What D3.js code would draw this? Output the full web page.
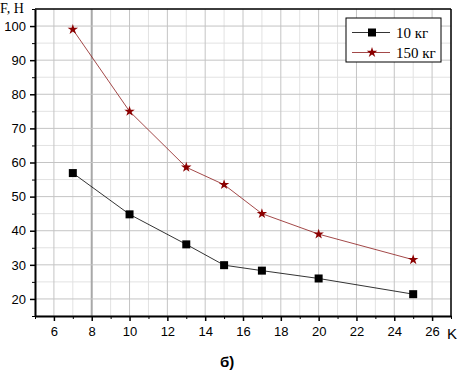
<!DOCTYPE html>
<html>
<head>
<meta charset="utf-8">
<script src="https://cdn.jsdelivr.net/npm/d3@7"></script>
<style>
  body { margin: 0; background: #fff; }
  svg { display: block; }
</style>
</head>
<body>
<div id="chart"></div>
<script>
const kValues = [7, 10, 13, 15, 17, 20, 25];
const force10 = [56.9, 44.8, 36, 29.9, 28.3, 26, 21.4];
const force150 = [99, 75, 58.6, 53.5, 45, 39, 31.5];
const seriesNames = ['10 кг', '150 кг'];
const xTicks = [6, 8, 10, 12, 14, 16, 18, 20, 22, 24, 26];
const yTicks = [20, 30, 40, 50, 60, 70, 80, 90, 100];

const W = 457, H = 372;
const margin = { top: 9, right: 6, bottom: 56, left: 35 };

const svg = d3.select('#chart').append('svg')
    .attr('width', W)
    .attr('height', H);

const x = d3.scaleLinear().domain([5, 27]).range([margin.left, W - margin.right]);
const y = d3.scaleLinear().domain([15, 105]).range([H - margin.bottom, margin.top]);

const grid = svg.append('g');
// minor grid
grid.selectAll('.vminor')
  .data(d3.range(5, 28, 2))
  .join('line')
    .attr('x1', d => x(d)).attr('x2', d => x(d))
    .attr('y1', y(15)).attr('y2', y(105))
    .attr('stroke', '#e2e2e2').attr('stroke-width', 1);
grid.selectAll('.hminor')
  .data(d3.range(15, 106, 10))
  .join('line')
    .attr('y1', d => y(d)).attr('y2', d => y(d))
    .attr('x1', x(5)).attr('x2', x(27))
    .attr('stroke', '#e2e2e2').attr('stroke-width', 1);
// major grid
grid.selectAll('.vmajor')
  .data(xTicks)
  .join('line')
    .attr('x1', d => x(d)).attr('x2', d => x(d))
    .attr('y1', y(15)).attr('y2', y(105))
    .attr('stroke', d => d === 8 ? '#a8a8a8' : '#c4c4c4')
    .attr('stroke-width', d => d === 8 ? 2 : 1);
grid.selectAll('.hmajor')
  .data(yTicks)
  .join('line')
    .attr('y1', d => y(d)).attr('y2', d => y(d))
    .attr('x1', x(5)).attr('x2', x(27))
    .attr('stroke', '#c4c4c4').attr('stroke-width', 1);

// frame top/right
svg.append('line')
    .attr('x1', x(5)).attr('x2', x(27)).attr('y1', y(105)).attr('y2', y(105))
    .attr('stroke', '#000').attr('stroke-width', 1.5);
svg.append('line')
    .attr('x1', x(27)).attr('x2', x(27)).attr('y1', y(105)).attr('y2', y(15))
    .attr('stroke', '#000').attr('stroke-width', 1.5);

// axes
const xAxis = svg.append('g')
    .attr('transform', `translate(0,${y(15)})`)
    .call(d3.axisBottom(x).tickValues(xTicks).tickSize(5).tickSizeOuter(0).tickPadding(6));
svg.append('g')
    .attr('transform', `translate(0,${y(15)})`)
    .call(d3.axisBottom(x).tickValues(d3.range(5, 28, 2)).tickSize(3).tickSizeOuter(0).tickFormat(''))
    .select('.domain').remove();

const yAxis = svg.append('g')
    .attr('transform', `translate(${x(5)},0)`)
    .call(d3.axisLeft(y).tickValues(yTicks).tickSize(5).tickSizeOuter(0).tickPadding(4));
svg.append('g')
    .attr('transform', `translate(${x(5)},0)`)
    .call(d3.axisLeft(y).tickValues(d3.range(15, 106, 10)).tickSize(3).tickSizeOuter(0).tickFormat(''))
    .select('.domain').remove();

[xAxis, yAxis].forEach(a => {
  a.select('.domain').attr('stroke-width', 2);
  a.selectAll('.tick line').attr('stroke-width', 1.5);
  a.selectAll('text')
    .attr('font-family', 'Liberation Sans, Arial, sans-serif')
    .attr('font-size', 13)
    .attr('fill', '#000');
});

// lines
const line = d3.line().x(d => x(d[0])).y(d => y(d[1]));
const data10 = kValues.map((k, i) => [k, force10[i]]);
const data150 = kValues.map((k, i) => [k, force150[i]]);

svg.append('path').datum(data10)
    .attr('d', line).attr('fill', 'none').attr('stroke', '#000').attr('stroke-width', 0.8);
svg.append('path').datum(data150)
    .attr('d', line).attr('fill', 'none').attr('stroke', '#8b1a1a').attr('stroke-width', 0.8);

const square = d3.symbol().type(d3.symbolSquare).size(64);
const star = d3.symbol().type(d3.symbolStar).size(34);

svg.selectAll('.m10').data(data10).join('path')
    .attr('transform', d => `translate(${x(d[0])},${y(d[1])})`)
    .attr('d', square).attr('fill', '#000');
svg.selectAll('.m150').data(data150).join('path')
    .attr('transform', d => `translate(${x(d[0])},${y(d[1])})`)
    .attr('d', star).attr('fill', '#8b0000');

// legend
const legend = svg.append('g');
legend.append('rect')
    .attr('x', 346).attr('y', 18).attr('width', 95).attr('height', 44)
    .attr('fill', '#fff').attr('stroke', '#000').attr('stroke-width', 1);
const legendItems = [
  { name: seriesNames[0], color: '#000', stroke: '#000', sym: square, y: 32.5 },
  { name: seriesNames[1], color: '#8b0000', stroke: '#8b1a1a', sym: star, y: 52.5 }
];
legendItems.forEach(it => {
  legend.append('line')
      .attr('x1', 352).attr('x2', 390).attr('y1', it.y).attr('y2', it.y)
      .attr('stroke', it.stroke).attr('stroke-width', 0.8);
  legend.append('path')
      .attr('transform', `translate(372,${it.y})`)
      .attr('d', it.sym).attr('fill', it.color);
  legend.append('text')
      .attr('x', 396).attr('y', it.y + 5)
      .attr('font-family', 'Liberation Serif, Times New Roman, serif')
      .attr('font-size', 15)
      .text(it.name);
});

// labels
svg.append('text')
    .attr('x', 0).attr('y', 13)
    .attr('font-family', 'Liberation Serif, Times New Roman, serif')
    .attr('font-size', 14)
    .text('F, Н');
svg.append('text')
    .attr('x', 447).attr('y', 339)
    .attr('font-family', 'Liberation Sans, Arial, sans-serif')
    .attr('font-size', 15)
    .text('K');
svg.append('text')
    .attr('x', 220).attr('y', 367)
    .attr('font-family', 'Liberation Sans, Arial, sans-serif')
    .attr('font-size', 15)
    .attr('font-weight', 'bold')
    .text('б)');
</script>
</body>
</html>
